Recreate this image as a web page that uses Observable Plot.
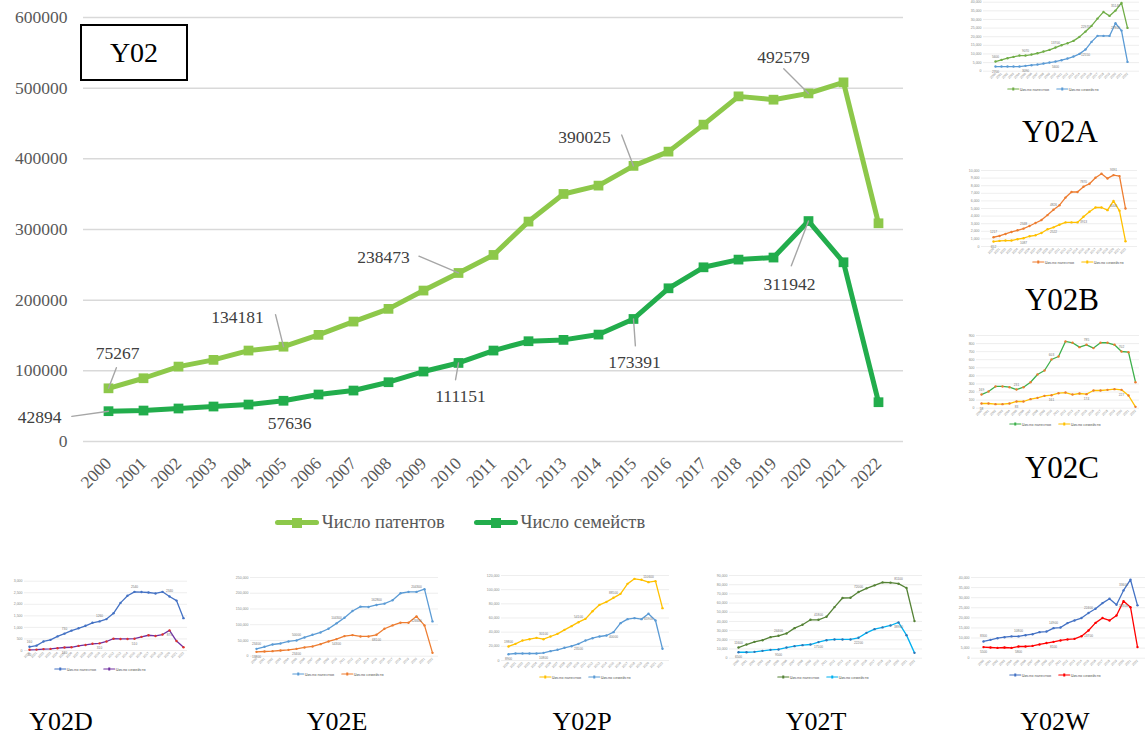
<!DOCTYPE html>
<html><head><meta charset="utf-8">
<script src="https://cdn.jsdelivr.net/npm/d3@7"></script>
<script src="https://cdn.jsdelivr.net/npm/@observablehq/plot@0.6"></script>
<style>
body{margin:0;background:#fff;}
#page{position:relative;width:1145px;height:740px;overflow:hidden;font-family:"Liberation Serif",serif;background:#fff;}
.abs{position:absolute;}
.lbl{position:absolute;transform:translate(-50%,-50%);color:#000;white-space:nowrap;font-family:"Liberation Serif",serif;}
</style></head>
<body><div id="page"></div>
<script>
// ---------------- DATA ----------------
const years = ["2000","2001","2002","2003","2004","2005","2006","2007","2008","2009","2010","2011","2012","2013","2014","2015","2016","2017","2018","2019","2020","2021","2022"];
const patents  = [75267, 89500, 106000, 115500, 128700, 134181, 150900, 169700, 187700, 213600, 238473, 264000, 311200, 350300, 362100, 390025, 410200, 448400, 488400, 483700, 492579, 508200, 308800];
const families = [42894, 43800, 46700, 49500, 52300, 57636, 66500, 72100, 83900, 99000, 111151, 128700, 141900, 143800, 151300, 173391, 216800, 246500, 257400, 260300, 311942, 253600, 55600];
const yTicks = [0, 100000, 200000, 300000, 400000, 500000, 600000];
const seriesNames = ["Число патентов", "Число семейств"];
const patLabelYears = ["2000","2005","2010","2015","2020"];
const famLabelYears = ["2000","2005","2010","2015","2020"];

const y02aPat = [5600,6560,7530,8300,9070,9070,9650,10400,11400,12350,13700,15060,16200,17570,19900,22970,26250,30500,34360,32050,35140,39580,25100];
const y02aFam = [2700,2700,2700,2700,2700,3090,3470,3860,4440,5020,5600,6370,7340,8490,10040,12550,16990,20460,20460,20460,27800,23550,5400];
const y02bPat = [1217,1391,1652,1913,2130,2348,2696,3087,3478,4130,4826,5435,6435,7174,7174,7870,8261,9043,9565,8957,9391,9261,5000];
const y02bFam = [652,739,783,783,957,1087,1348,1478,1783,2261,2522,2870,3174,3174,3174,3913,4565,5130,5130,4783,6000,4696,696];
const y02cPat = [169,207,269,269,260,231,260,322,417,467,603,640,826,810,756,785,744,810,810,785,702,694,322];
const y02cFam = [58,58,50,50,58,83,83,112,128,153,161,186,194,169,182,174,219,219,227,236,227,157,17];
const y02dPat = [160,210,390,460,610,730,860,960,1070,1200,1260,1360,1610,2060,2370,2540,2530,2510,2470,2540,2340,2160,1400];
const y02dFam = [30,40,60,70,100,130,140,200,240,290,310,390,510,500,500,510,590,660,630,690,870,410,140];
const y02ePat = [23400,29800,37200,40400,46800,50000,59600,68100,75500,87200,104300,122300,143600,157400,156400,162800,167000,177700,200000,204300,204300,212800,110600];
const y02eFam = [13800,14900,16000,18100,20200,23400,27700,30900,38300,46800,54300,63800,67000,62800,62800,68100,87200,97900,106400,106400,126600,97900,10600];
const y02pPat = [19800,23500,28200,30100,32000,30100,33900,37600,43300,48500,54100,58800,69600,78600,82800,88500,94100,108200,115300,113900,110600,112000,73900];
const y02pFam = [8900,9900,9900,9900,9900,10800,13200,15100,17900,20200,23500,28200,31500,33900,35300,40000,52700,58400,59800,58400,65900,56500,16500];
const y02tPat = [11600,14900,17800,19600,22900,24400,26900,32700,36400,41800,41800,45100,55600,65500,65800,72000,76000,79300,82500,82200,81100,76400,40400];
const y02tFam = [6500,6500,6900,8000,9100,9500,11600,13100,14200,14900,17500,19600,20400,20400,20400,22200,27600,31600,33500,35600,38900,25100,5800];
const y02wPat = [8300,9100,9900,10400,10800,10800,11400,11900,12900,13200,14900,15200,17400,18700,19900,22400,24500,27300,29500,26500,33600,38900,26200];
const y02wFam = [5500,5300,5100,5300,5100,5800,5800,6100,6800,7500,8100,8800,9300,9600,10900,13700,17500,19900,18700,21200,28300,25300,5500];

const thumbNames = ["Y02A","Y02B","Y02C","Y02D","Y02E","Y02P","Y02T","Y02W"];
const thumbPat = [y02aPat,y02bPat,y02cPat,y02dPat,y02ePat,y02pPat,y02tPat,y02wPat];
const thumbFam = [y02aFam,y02bFam,y02cFam,y02dFam,y02eFam,y02pFam,y02tFam,y02wFam];
const thumbMax = [40000,10000,900,3000,250000,120000,90000,40000];
const thumbStep = [5000,1000,100,500,50000,20000,10000,5000];

// ---------------- STYLE / LAYOUT ----------------
const C = {pat:"#8DC84A", fam:"#22AD4C", grid:"#d9d9d9", axis:"#595959", label:"#404040", leader:"#a6a6a6"};
const thumbStyle = {
  Y02A:{a:"#70AD47", b:"#5B9BD5", ma:"#70AD47", mb:"#5B9BD5"},
  Y02B:{a:"#ED7D31", b:"#FFC000", ma:"#ED7D31", mb:"#FFC000"},
  Y02C:{a:"#3DB04B", b:"#FFC000", ma:"#ED7D31", mb:"#ED7D31"},
  Y02D:{a:"#4472C4", b:"#7030A0", ma:"#4472C4", mb:"#E0302A"},
  Y02E:{a:"#5B9BD5", b:"#ED7D31", ma:"#5B9BD5", mb:"#ED7D31"},
  Y02P:{a:"#FFC000", b:"#5B9BD5", ma:"#FFC000", mb:"#5B9BD5"},
  Y02T:{a:"#548235", b:"#00B0F0", ma:"#548235", mb:"#2E75B6"},
  Y02W:{a:"#4472C4", b:"#FF0000", ma:"#4472C4", mb:"#FF0000"}
};
const thumbLayout = {
  Y02A:{left:955, top:0,   w:190, h:95,  px0:987,  px1:1135, yTop:1.7,  yZero:70.7,  legX:1053, legY:89,  labX:1060, labY:132, fs:31},
  Y02B:{left:955, top:160, w:190, h:110, px0:985,  px1:1133, yTop:170,  yZero:246,   legX:1078, legY:262, labX:1062, labY:300, fs:31},
  Y02C:{left:955, top:325, w:190, h:110, px0:980,  px1:1135, yTop:335,  yZero:407.7, legX:1055, legY:424, labX:1062, labY:468, fs:31},
  Y02D:{left:0,   top:570, w:215, h:110, px0:28,   px1:183,  yTop:580.7,yZero:650,   legX:100,  legY:669, labX:61,   labY:722, fs:26},
  Y02E:{left:225, top:565, w:215, h:120, px0:254,  px1:434,  yTop:577,  yZero:655.7, legX:338,  legY:674, labX:337,  labY:722, fs:26},
  Y02P:{left:475, top:560, w:220, h:125, px0:505,  px1:665,  yTop:575,  yZero:660,   legX:585,  legY:677, labX:582,  labY:722, fs:26},
  Y02T:{left:700, top:565, w:240, h:120, px0:733,  px1:918,  yTop:575,  yZero:657.7, legX:823,  legY:677, labX:816,  labY:722, fs:26},
  Y02W:{left:945, top:565, w:215, h:120, px0:975,  px1:1145, yTop:577,  yZero:657.7, legX:1055, legY:675, labX:1055, labY:722, fs:26}
};
const annoLayout = {
  patents: {"2000":{dx:9,dy:-35,len:22,rot:21}, "2005":{dx:-46,dy:-29,len:33,rot:-14}, "2010":{dx:-75,dy:-16,len:43,rot:-67}, "2015":{dx:-49,dy:-28,len:33,rot:-21}, "2020":{dx:-25,dy:-36,len:35,rot:-45}},
  families: {"2000":{dx:-69,dy:6,len:37,rot:262}, "2005":{dx:6,dy:23,len:0,rot:0}, "2010":{dx:2,dy:33,len:17,rot:190}, "2015":{dx:1,dy:43,len:27,rot:176}, "2020":{dx:-19,dy:63,len:48,rot:201}}
};

const page = document.getElementById("page");
const FONT = "Liberation Serif";
const lineShape = {draw(ctx, l){ ctx.moveTo(0,0); ctx.lineTo(0,-l); }};

// ---------------- MAIN CHART ----------------
const rows = years.map((y,i)=>({year:y, patents:patents[i], families:families[i]}));
const annoMarks = [];
for (const [key, ys] of [["patents", patLabelYears], ["families", famLabelYears]]) {
  for (const yr of ys) {
    const r = rows.find(d => d.year === yr);
    const L = annoLayout[key][yr];
    if (L.len > 0) annoMarks.push(Plot.vector([r], {x:"year", y:key, length:L.len, rotate:L.rot, anchor:"start", shape:lineShape, stroke:C.leader, strokeWidth:1.4}));
    annoMarks.push(Plot.text([r], {x:"year", y:key, text:d=>String(d[key]), dx:L.dx, dy:L.dy, fontSize:17.5, fill:C.label, fontFamily:FONT}));
  }
}
const main = Plot.plot({
  width:910, height:500, marginLeft:83, marginRight:7, marginTop:17, marginBottom:59,
  style:{fontFamily:FONT, fontSize:"17px", background:"transparent", overflow:"visible"},
  x:{type:"point", domain:years, range:[100,885], padding:0},
  y:{domain:[0,600000]},
  marks:[
    Plot.ruleY(yTicks, {stroke:C.grid, strokeWidth:1.5}),
    Plot.axisY({ticks:yTicks, tickSize:0, tickPadding:16, tickFormat:d=>String(d), fontSize:17.5, color:C.axis, label:null, fontFamily:FONT}),
    Plot.axisX({tickRotate:-45, tickSize:0, tickPadding:19, fontSize:17.5, color:C.axis, label:null, fontFamily:FONT}),
    Plot.line(rows, {x:"year", y:"patents", stroke:C.pat, strokeWidth:5}),
    Plot.dot(rows, {x:"year", y:"patents", symbol:"square", fill:C.pat, r:5.5}),
    Plot.line(rows, {x:"year", y:"families", stroke:C.fam, strokeWidth:5}),
    Plot.dot(rows, {x:"year", y:"families", symbol:"square", fill:C.fam, r:5.5}),
    ...annoMarks
  ]
});
main.style.position = "absolute"; main.style.left = "0px"; main.style.top = "0px";
page.appendChild(main);

// Y02 box
const box = document.createElement("div");
box.className = "abs";
box.style.cssText = "left:80px;top:24px;width:108px;height:57px;box-sizing:border-box;border:2px solid #000;background:#fff;display:flex;align-items:center;justify-content:center;font-size:28px;color:#000;font-family:'Liberation Serif',serif;";
box.textContent = "Y02";
page.appendChild(box);

// legends
function legendItem(color, text, sw, fs, lw, ms, gap) {
  return `<span style="display:inline-flex;align-items:center;margin-right:${gap}px">
    <span style="position:relative;display:inline-block;width:${sw}px;height:${lw}px;background:${color};border-radius:${lw/2}px;">
      <span style="position:absolute;left:${sw/2-ms/2}px;top:${lw/2-ms/2}px;width:${ms}px;height:${ms}px;background:${color};"></span>
    </span><span style="margin-left:${fs*0.15}px;color:#595959;font-size:${fs}px;">${text}</span></span>`;
}
const leg = document.createElement("div");
leg.className = "abs";
leg.style.cssText = "left:275px;top:512px;white-space:nowrap;display:flex;align-items:center;font-family:'Liberation Serif',serif;";
leg.innerHTML = legendItem(C.pat, seriesNames[0], 44, 18.5, 5, 10, 29) + legendItem(C.fam, seriesNames[1], 44, 18.5, 5, 10, 0);
page.appendChild(leg);

// ---------------- THUMBNAILS ----------------
thumbNames.forEach((name, i) => {
  const L = thumbLayout[name], S = thumbStyle[name];
  const pat = thumbPat[i], fam = thumbFam[i];
  const data = years.map((y,j)=>({year:y, a:pat[j], b:fam[j]}));
  const ticks = d3.range(0, thumbMax[i] + 1, thumbStep[i]);
  const x0 = L.px0 - L.left, x1 = L.px1 - L.left;
  const yt = L.yTop - L.top, yz = L.yZero - L.top;
  const lab = data.filter(d => patLabelYears.includes(d.year));
  const p = Plot.plot({
    width:L.w, height:L.h,
    marginLeft:x0-4, marginRight:Math.max(0, L.w - x1 - 4), marginTop:yt, marginBottom:L.h - yz,
    style:{fontFamily:"Liberation Sans", fontSize:"3.5px", background:"transparent", overflow:"visible"},
    x:{type:"point", domain:years, range:[x0, x1], padding:0},
    y:{domain:[0, thumbMax[i]], range:[yz, yt]},
    marks:[
      Plot.ruleY(ticks, {stroke:"#e3e3e3", strokeWidth:0.6}),
      Plot.axisY({ticks, tickSize:0, tickPadding:2, fontSize:3.5, color:"#8a8a8a", label:null}),
      Plot.axisX({tickRotate:-45, tickSize:0, tickPadding:2, fontSize:3.2, color:"#8a8a8a", label:null}),
      Plot.line(data, {x:"year", y:"a", stroke:S.a, strokeWidth:1.3}),
      Plot.dot(data, {x:"year", y:"a", fill:S.ma, r:1.2}),
      Plot.line(data, {x:"year", y:"b", stroke:S.b, strokeWidth:1.3}),
      Plot.dot(data, {x:"year", y:"b", fill:S.mb, r:1.2}),
      Plot.text(lab, {x:"year", y:"a", text:d=>String(d.a), dy:-5, fontSize:3.2, fill:"#777"}),
      Plot.text(lab, {x:"year", y:"b", text:d=>String(d.b), dy:5, fontSize:3.2, fill:"#777"})
    ]
  });
  p.style.position = "absolute"; p.style.left = L.left + "px"; p.style.top = L.top + "px";
  page.appendChild(p);

  const lg = document.createElement("div");
  lg.className = "abs";
  lg.style.cssText = `left:${L.legX}px;top:${L.legY}px;transform:translate(-50%,-50%);white-space:nowrap;display:flex;align-items:center;font-family:"Liberation Sans",sans-serif;`;
  lg.innerHTML = legendItem(S.a, seriesNames[0], 12, 4, 1.3, 2.4, 7) + legendItem(S.b, seriesNames[1], 12, 4, 1.3, 2.4, 0);
  page.appendChild(lg);

  const t = document.createElement("div");
  t.className = "lbl";
  t.style.left = L.labX + "px"; t.style.top = L.labY + "px"; t.style.fontSize = L.fs + "px";
  t.textContent = name;
  page.appendChild(t);
});
</script>
</body></html>
